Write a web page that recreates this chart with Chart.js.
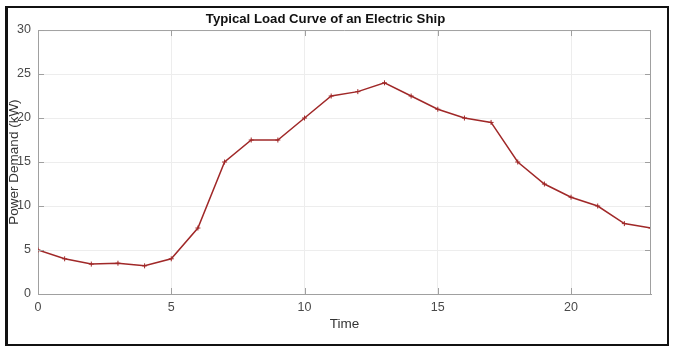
<!DOCTYPE html>
<html>
<head>
<meta charset="utf-8">
<script src="https://cdn.jsdelivr.net/npm/chart.js@4/dist/chart.umd.min.js"></script>
<style>
  html, body { margin: 0; padding: 0; background: #fff; }
  #wrap { position: relative; width: 674px; height: 351px; }
  #frame {
    position: absolute; left: 5px; top: 6px; width: 659px; height: 336px;
    border: 2px solid #111; border-left-width: 3px; pointer-events: none;
  }
</style>
</head>
<body>
<div id="wrap">
  <canvas id="myChart" width="674" height="351"></canvas>
  <div id="frame"></div>
</div>
<script>
const hours = [0, 1, 2, 3, 4, 5, 6, 7, 8, 9, 10, 11, 12, 13, 14, 15, 16, 17, 18, 19, 20, 21, 22, 23];
const demand = [5, 4, 3.4, 3.5, 3.2, 4, 7.5, 15, 17.5, 17.5, 20, 22.5, 23, 24, 22.5, 21, 20, 19.5, 15, 12.5, 11, 10, 8, 7.5];
const xTicks = [0, 5, 10, 15, 20];
const yTicks = [0, 5, 10, 15, 20, 25, 30];

const axisColor = '#a0a0a0';
const lineColor = '#a02828';

// MATLAB style box with ticks pointing inward
const boxTicks = {
  id: 'boxTicks',
  afterDatasetsDraw(chart) {
    const {ctx, chartArea: a, scales: {x, y}} = chart;
    ctx.save();
    ctx.strokeStyle = axisColor;
    ctx.lineWidth = 1;
    ctx.beginPath();
    ctx.moveTo(a.left, a.top + 0.5);
    ctx.lineTo(a.right, a.top + 0.5);
    ctx.moveTo(a.right - 0.5, a.top);
    ctx.lineTo(a.right - 0.5, a.bottom);
    xTicks.forEach(v => {
      const px = Math.round(x.getPixelForValue(v)) + 0.5;
      ctx.moveTo(px, a.bottom); ctx.lineTo(px, a.bottom - 6);
      ctx.moveTo(px, a.top); ctx.lineTo(px, a.top + 6);
    });
    yTicks.forEach(v => {
      const py = Math.round(y.getPixelForValue(v)) + 0.5;
      ctx.moveTo(a.left, py); ctx.lineTo(a.left + 6, py);
      ctx.moveTo(a.right, py); ctx.lineTo(a.right - 6, py);
    });
    ctx.stroke();
    ctx.restore();
  }
};

const data = {
  datasets: [{
    label: 'Power Demand',
    data: hours.map((h, i) => ({x: h, y: demand[i]})),
    borderColor: lineColor,
    backgroundColor: lineColor,
    borderWidth: 1.5,
    pointStyle: 'cross',
    pointRadius: 2.5,
    pointBorderWidth: 1,
    pointBorderColor: lineColor,
    tension: 0,
    fill: false
  }]
};

const config = {
  type: 'line',
  data: data,
  plugins: [boxTicks],
  options: {
    responsive: false,
    animation: false,
    layout: { padding: {left: 0, right: 23, top: 0, bottom: 0} },
    plugins: {
      legend: { display: false },
      tooltip: { enabled: false },
      title: {
        display: true,
        text: 'Typical Load Curve of an Electric Ship',
        color: '#111',
        font: { family: 'Liberation Sans', size: 13.2, weight: 'bold' },
        padding: { top: 11.5, bottom: 2.7 }
      }
    },
    scales: {
      x: {
        type: 'linear',
        min: 0,
        max: 23,
        afterBuildTicks: (scale) => { scale.ticks = xTicks.map(v => ({value: v})); },
        afterFit: (scale) => { scale.height = 57; },
        ticks: {
          color: '#4a4a4a',
          padding: 6,
          maxRotation: 0,
          font: { family: 'Liberation Sans', size: 12.5 }
        },
        grid: { color: '#ededed', drawTicks: false },
        border: { color: axisColor },
        title: {
          display: true,
          text: 'Time',
          color: '#333',
          font: { family: 'Liberation Sans', size: 13.5 },
          padding: { top: 0, bottom: 19 }
        }
      },
      y: {
        min: 0,
        max: 30,
        afterBuildTicks: (scale) => { scale.ticks = yTicks.map(v => ({value: v})); },
        afterFit: (scale) => { scale.width = 38; },
        ticks: {
          color: '#4a4a4a',
          padding: 7,
          font: { family: 'Liberation Sans', size: 12.5 }
        },
        grid: { color: '#ededed', drawTicks: false },
        border: { color: axisColor },
        title: {
          display: true,
          text: 'Power Demand (kW)',
          color: '#333',
          font: { family: 'Liberation Sans', size: 13.5 },
          padding: { top: 6, bottom: 0 }
        }
      }
    }
  }
};

const myChart = new Chart(
  document.getElementById('myChart'),
  config
);
</script>
</body>
</html>
